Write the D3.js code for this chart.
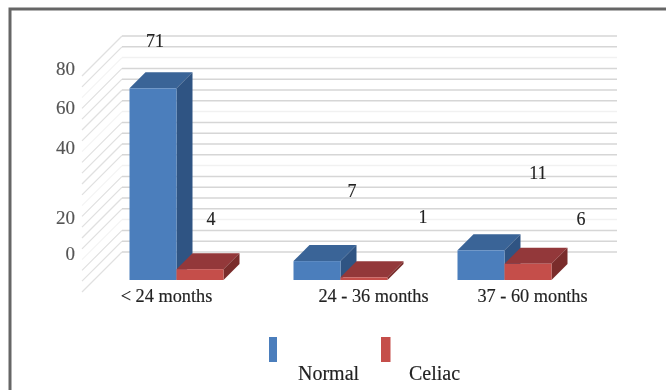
<!DOCTYPE html>
<html>
<head>
<meta charset="utf-8">
<script src="https://cdn.jsdelivr.net/npm/d3@7"></script>
<style>
  html, body { margin: 0; padding: 0; background: #fff; }
  svg { display: block; filter: blur(0.45px); }
  text { font-family: "Liberation Serif", serif; fill: #222; stroke: #222; stroke-width: 0.15px; }
</style>
</head>
<body>
<div id="graph"></div>
<script>
var categories = ["< 24 months", "24 - 36 months", "37 - 60 months"]
var seriesNames = ["Normal", "Celiac"]
var normalValues = [71, 7, 11]
var celiacValues = [4, 1, 6]
var yTickLabels = [0, 20, 40, 60, 80]
var gridValues = d3.range(0, 81, 4)
// every fifth grid line is nearly washed out in the picture
var fadedGrid = [12, 32, 52, 72]

var width = 666
var height = 390
var wallDepth = 40   // depth of the floor, back wall is shifted this much
var barDepth = 16
var barInset = 12    // bars stand this far in from the front of the floor
var floorFrontX = 82
var floorBackY = 252

var svg = d3.select("#graph").append("svg")
    .attr("width", width)
    .attr("height", height)

// frame: top and left edges only, the rest is cropped off
svg.append("path")
    .attr("d", "M10,390V9H666")
    .attr("fill", "none")
    .attr("stroke", "#666")
    .attr("stroke-width", 3)

var y = d3.scaleLinear().domain([0, 80]).range([floorBackY, 36])
var x0 = d3.scaleBand().domain(categories).range([floorFrontX, floorFrontX + 492])
var x1 = d3.scaleBand().domain(seriesNames).range([47.5, 141.5])

// y labels were moved by hand in the original, so they are not on the grid
var yLabelPos = d3.scaleLinear().domain(yTickLabels).range([253, 217, 147, 107, 68])
var catLabelPos = d3.scaleOrdinal().domain(categories).range([166, 373, 532])

// side wall grid
svg.append("g")
    .selectAll("line")
    .data(gridValues)
    .join("line")
    .attr("x1", floorFrontX)
    .attr("y1", function (d) { return y(d) + wallDepth })
    .attr("x2", floorFrontX + wallDepth)
    .attr("y2", function (d) { return y(d) })
    .attr("stroke", function (d) { return fadedGrid.indexOf(d) >= 0 ? "#f4f4f4" : "#e0e0e0" })
    .attr("stroke-width", 1.2)

// back wall grid
svg.append("g")
    .selectAll("line")
    .data(gridValues)
    .join("line")
    .attr("x1", floorFrontX + wallDepth)
    .attr("y1", function (d) { return y(d) })
    .attr("x2", floorFrontX + wallDepth + 495)
    .attr("y2", function (d) { return y(d) })
    .attr("stroke", function (d) { return fadedGrid.indexOf(d) >= 0 ? "#f1f1f1" : "#d6d6d6" })
    .attr("stroke-width", 1.5)

// draw a 3d column from its front face
function makeBar(g, value, series, colors, cat) {
    var left = x0(cat) + x1(series)
    var right = left + x1.bandwidth()
    var base = y(0) + wallDepth - barInset
    var top = base - (y(0) - y(value))
    var d = barDepth
    g.append("polygon")
        .attr("points", [[left, top], [left + d, top - d], [right + d, top - d], [right, top]].join(" "))
        .attr("fill", colors.top)
    g.append("polygon")
        .attr("points", [[right, top], [right + d, top - d], [right + d, base - d], [right, base]].join(" "))
        .attr("fill", colors.side)
    g.append("rect")
        .attr("x", left)
        .attr("y", top)
        .attr("width", right - left)
        .attr("height", base - top)
        .attr("fill", colors.front)
}

var blue = { front: "#4b7ebc", top: "#3a6497", side: "#2f5483" }
var red = { front: "#c54e4a", top: "#93383a", side: "#7a2c2b" }

var bars = svg.append("g")
categories.forEach(function (c, i) {
    makeBar(bars, normalValues[i], "Normal", blue, c)
    makeBar(bars, celiacValues[i], "Celiac", red, c)
})

// value labels, also dragged away from the bars in the original
var labelOffsets = [[155, 41], [211, 219], [352, 191], [423, 217], [538, 173], [581, 219]]
var labelValues = []
categories.forEach(function (c, i) { labelValues.push(normalValues[i], celiacValues[i]) })
svg.append("g")
    .selectAll("text")
    .data(labelValues)
    .join("text")
    .attr("x", function (d, i) { return labelOffsets[i][0] })
    .attr("y", function (d, i) { return labelOffsets[i][1] })
    .attr("dy", "0.35em")
    .attr("text-anchor", "middle")
    .attr("font-size", 18)
    .text(function (d) { return d })

var yAxis = svg.append("g")
    .attr("transform", "translate(75,0)")
    .call(d3.axisLeft(yLabelPos).tickValues(yTickLabels).tickSize(0).tickPadding(0))
yAxis.select(".domain").remove()
yAxis.selectAll("text")
    .attr("font-family", null)
    .attr("font-size", 19)
    .style("fill", "#555")
    .style("stroke", "#555")

var xAxis = svg.append("g")
    .attr("transform", "translate(0,286)")
    .call(d3.axisBottom(catLabelPos).tickSize(0).tickPadding(3))
xAxis.select(".domain").remove()
xAxis.selectAll("text")
    .attr("font-family", null)
    .attr("font-size", 18.3)

// legend
var legendX = d3.scaleOrdinal().domain(seriesNames).range([269, 381])
var legendColor = d3.scaleOrdinal().domain(seriesNames).range([blue.front, red.front])
var legendW = d3.scaleOrdinal().domain(seriesNames).range([8, 9.5])
var legendTextX = d3.scaleOrdinal().domain(seriesNames).range([298, 409])

svg.append("g").selectAll("rect")
    .data(seriesNames)
    .join("rect")
    .attr("x", function (d) { return legendX(d) })
    .attr("y", 337)
    .attr("width", function (d) { return legendW(d) })
    .attr("height", 25)
    .attr("fill", function (d) { return legendColor(d) })

svg.append("g").selectAll("text")
    .data(seriesNames)
    .join("text")
    .attr("x", function (d) { return legendTextX(d) })
    .attr("y", 380)
    .attr("font-size", 20)
    .text(function (d) { return d })
</script>
</body>
</html>
